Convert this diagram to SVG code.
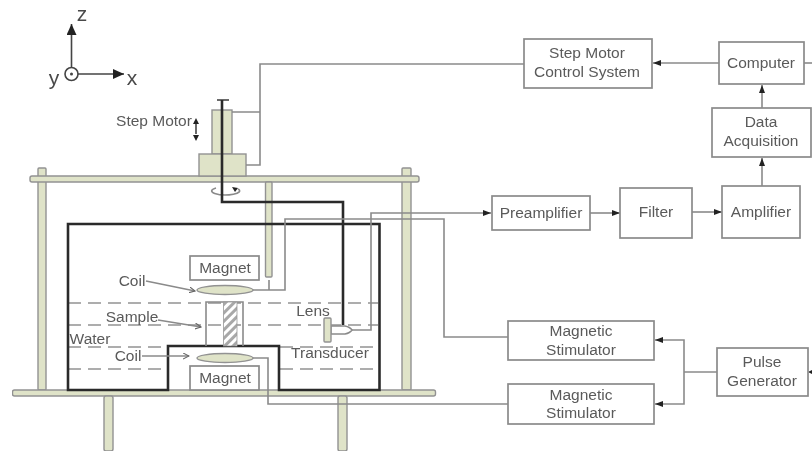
<svg xmlns="http://www.w3.org/2000/svg" width="812" height="453" viewBox="0 0 812 453">
<style>
text{font-family:"Liberation Sans",Arial,sans-serif;font-size:15.500px;fill:#5a5a5a;text-anchor:middle}
.box{fill:#fff;stroke:#8a8a8a;stroke-width:1.700}
.part{fill:#dfe3c8;stroke:#929292;stroke-width:1.400}
.wire{fill:none;stroke:#8a8a8a;stroke-width:1.600}
.thick{fill:none;stroke:#2b2b2b;stroke-width:2.600}
.dash{fill:none;stroke:#adadad;stroke-width:2;stroke-dasharray:13 7}
.axis{fill:none;stroke:#444;stroke-width:1.600}
.big{font-size:21px;fill:#4a4a4a}
</style>
<defs>
<marker id="arr" markerUnits="userSpaceOnUse" markerWidth="9" markerHeight="7" refX="8" refY="3.500" orient="auto"><path d="M0,0.500L8,3.500L0,6.500z" fill="#222"/></marker>
<marker id="arrBig" markerUnits="userSpaceOnUse" markerWidth="12" markerHeight="10" refX="11" refY="5" orient="auto"><path d="M0,0L11,5L0,10z" fill="#222"/></marker>
<marker id="arrGrey" markerUnits="userSpaceOnUse" markerWidth="7" markerHeight="7" refX="6" refY="3.500" orient="auto"><path d="M0,0.500L6,3.500L0,6.500" fill="none" stroke="#666" stroke-width="1.100"/></marker>
<pattern id="hatch" patternUnits="userSpaceOnUse" width="6" height="6" patternTransform="rotate(-45)"><rect width="6" height="6" fill="#fff"/><rect width="6" height="3" fill="#a8a8a8"/></pattern>
<filter id="soft" x="0" y="0" width="100%" height="100%"><feGaussianBlur stdDeviation="0.750"/></filter>
</defs>
<rect width="812" height="453" fill="#fff"/>
<g filter="url(#soft)">
<g id="axes">
<path class="axis" d="M71.500,68V24" marker-end="url(#arrBig)"/>
<path class="axis" d="M78,74H124" marker-end="url(#arrBig)"/>
<circle class="axis" cx="71.500" cy="74" r="6.500"/>
<circle cx="71.500" cy="74" r="1.500" fill="#444"/>
<text class="big" x="82" y="21">z</text>
<text class="big" x="54" y="85">y</text>
<text class="big" x="132" y="85">x</text>
</g>
<g id="frame">
<rect class="part" x="38" y="168" width="8" height="222" rx="1"/>
<rect class="part" x="402" y="168" width="9" height="222" rx="1"/>
<rect class="part" x="30" y="176" width="389" height="6" rx="2"/>
<rect class="part" x="12.500" y="390" width="423" height="6" rx="2"/>
<rect class="part" x="104" y="396" width="9" height="55" rx="2"/>
<rect class="part" x="338" y="396" width="9" height="55" rx="2"/>
</g>
<g id="step-motor">
<rect class="part" x="212" y="110" width="20" height="44"/>
<rect class="part" x="199" y="154" width="47" height="22"/>
<path class="axis" d="M217,100H229"/>
<text x="154" y="126">Step Motor</text>
<path class="axis" stroke-width="1.200" d="M196,124V134"/>
<path d="M196,118L199,124H193zM196,141L199,135H193z" fill="#222"/>
<path class="wire" stroke-width="1.200" d="M216,188A14,4 0 1 0 238,189"/>
<path d="M232,187L238,188L235,192z" fill="#222"/>
</g>
<g id="magnet-rod"><rect class="part" x="265.500" y="182" width="6.500" height="95" rx="1"/></g>
<g id="chamber">
<path class="dash" d="M68,303H378M68,325H378M68,347H168M280,347H376M68,369H168M280,369H376"/>
<path class="thick" d="M68,224H379.500V390H279V346H168V390H68z"/>
</g>
<g id="magnet-top"><rect class="box" x="190" y="256" width="69" height="24"/><text x="225" y="273">Magnet</text></g>
<g id="magnet-bottom"><rect class="box" x="190" y="366" width="69" height="24"/><text x="225" y="383">Magnet</text></g>
<g id="coil-top"><ellipse class="part" cx="225" cy="290" rx="28" ry="4.500"/></g>
<g id="coil-bottom"><ellipse class="part" cx="225" cy="358" rx="28" ry="4.500"/></g>
<g id="sample">
<path class="wire" d="M206,346V302H243V346"/>
<rect x="223.500" y="302" width="13.500" height="44" fill="url(#hatch)" stroke="#999" stroke-width="0.800"/>
</g>
<g id="transducer">
<path d="M331,326H345Q350,327 352,330Q350,333 345,334H331z" fill="#fff" stroke="#8a8a8a" stroke-width="1.400"/>
<rect class="part" x="324" y="318" width="7" height="24" rx="1"/>
</g>
<g id="connectors">
<path class="thick" d="M222,100V202H343V325"/>
<path class="wire" d="M524,64H260V165H246M232,112H260"/>
<path class="wire" d="M253,290H285V219H444V337H508M269,280V290"/>
<path class="wire" d="M253,358H268V404H508"/>
<path class="wire" d="M352,330H371V213H491" marker-end="url(#arr)"/>
<path class="wire" d="M719,63H653" marker-end="url(#arr)"/>
<path class="wire" d="M804,63H812"/>
<path class="wire" d="M762,108V85" marker-end="url(#arr)"/>
<path class="wire" d="M762,186V158" marker-end="url(#arr)"/>
<path class="wire" d="M590,213H620" marker-end="url(#arr)"/>
<path class="wire" d="M692,212H722" marker-end="url(#arr)"/>
<path class="wire" d="M717,372H684"/>
<path class="wire" d="M684,372V340H655" marker-end="url(#arr)"/>
<path class="wire" d="M684,372V404H655" marker-end="url(#arr)"/>
<path d="M808,372L812,370V374z" fill="#222"/>
<path class="wire" stroke-width="1.200" d="M146,281L195,291" marker-end="url(#arrGrey)"/>
<path class="wire" stroke-width="1.200" d="M158,320L201,327" marker-end="url(#arrGrey)"/>
<path class="wire" stroke-width="1.200" d="M142,356H189" marker-end="url(#arrGrey)"/>
</g>
<g id="labels">
<text x="132" y="286">Coil</text>
<text x="132" y="322">Sample</text>
<text x="90" y="344">Water</text>
<text x="128" y="361">Coil</text>
<text x="313" y="316">Lens</text>
<text x="330" y="358">Transducer</text>
</g>
<g id="step-motor-control"><rect class="box" x="524" y="39" width="128" height="49"/><text x="587" y="58">Step Motor</text><text x="587" y="77">Control System</text></g>
<g id="computer"><rect class="box" x="719" y="42" width="85" height="42"/><text x="761" y="68">Computer</text></g>
<g id="data-acquisition"><rect class="box" x="712" y="108" width="99" height="49"/><text x="761" y="127">Data</text><text x="761" y="146">Acquisition</text></g>
<g id="preamplifier"><rect class="box" x="492" y="196" width="98" height="34"/><text x="541" y="218">Preamplifier</text></g>
<g id="filter"><rect class="box" x="620" y="188" width="72" height="50"/><text x="656" y="217">Filter</text></g>
<g id="amplifier"><rect class="box" x="722" y="186" width="78" height="52"/><text x="761" y="217">Amplifier</text></g>
<g id="stimulator-1"><rect class="box" x="508" y="321" width="146" height="39"/><text x="581" y="336">Magnetic</text><text x="581" y="355">Stimulator</text></g>
<g id="stimulator-2"><rect class="box" x="508" y="384" width="146" height="40"/><text x="581" y="400">Magnetic</text><text x="581" y="418">Stimulator</text></g>
<g id="pulse-generator"><rect class="box" x="717" y="348" width="91" height="48"/><text x="762" y="367">Pulse</text><text x="762" y="386">Generator</text></g>
</g>
</svg>
